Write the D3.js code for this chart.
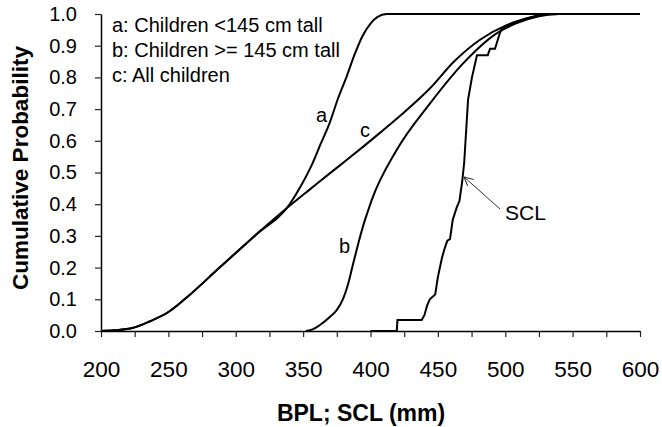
<!DOCTYPE html>
<html>
<head>
<meta charset="utf-8">
<script src="https://cdn.jsdelivr.net/npm/d3@7"></script>
<style>
  body { margin: 0; background: #fff; }
  svg { font-family: "Liberation Sans", Arial, sans-serif; }
</style>
</head>
<body>
<div id="chart"></div>
<script>
"use strict";

// cumulative curves, [BPL or SCL (mm), cumulative probability]
const curveA = [[200, 0], [210, 0.002], [224, 0.01], [236, 0.03], [250, 0.06], [262, 0.1],
  [288, 0.2], [314, 0.3], [340, 0.4], [348, 0.455], [356, 0.52], [363, 0.59], [370, 0.66],
  [376, 0.735], [382.5, 0.805], [388, 0.87], [394, 0.93], [400, 0.97], [405, 0.99],
  [412, 1], [600, 1]];

const curveB = [[352, 0], [357, 0.005], [362.5, 0.019], [370, 0.045], [374.9, 0.066],
  [379.8, 0.103], [383.5, 0.15], [387.2, 0.214], [391, 0.277], [394.7, 0.334], [398.4, 0.382],
  [400.9, 0.413], [419.4, 0.571], [444.2, 0.718], [468.9, 0.845], [493.6, 0.939],
  [508.5, 0.971], [525, 0.993], [540, 1], [600, 1]];

const curveC = [[200, 0], [210, 0.002], [224, 0.01], [236, 0.03], [250, 0.06], [262, 0.1],
  [288, 0.2], [314, 0.3], [340, 0.395], [356, 0.45], [370, 0.498], [382.5, 0.54],
  [407, 0.625], [425, 0.69], [444, 0.765], [462, 0.85], [481, 0.918], [501, 0.965],
  [515, 0.985], [528, 0.997], [540, 1], [600, 1]];

const curveSCL = [[400, 0], [419.5, 0], [420, 0.035], [438, 0.035], [440, 0.05], [442, 0.08],
  [444, 0.1], [448, 0.115], [450, 0.17], [453, 0.23], [455, 0.26], [457, 0.285], [459, 0.29],
  [461, 0.35], [464, 0.39], [466, 0.41], [468, 0.47], [469.5, 0.53], [470.1, 0.57],
  [472.4, 0.73], [475.3, 0.8], [479, 0.87], [487, 0.87], [488.7, 0.89], [492.4, 0.89],
  [496, 0.94], [497.6, 0.955], [505, 0.97], [515, 0.985], [528, 1], [600, 1]];

// legend lines and curve labels
const legendLines = ["a: Children <145 cm tall", "b: Children >= 145 cm tall", "c: All children"];
const curveLabels = [
  { text: "a", x: 359.6, y: 0.66 },
  { text: "c", x: 392.2, y: 0.613 },
  { text: "b", x: 376.6, y: 0.246 },
  { text: "SCL", x: 499.8, y: 0.35 }
];
// arrow from the SCL label to its curve
const arrowFrom = [496.1, 0.385];
const arrowTo = [469.4, 0.486];

const xTicks = d3.range(200, 601, 25);
const yTicks = d3.range(0, 11).map(d => d / 10);

const width = 662, height = 427;
const margin = { top: 14, right: 22, bottom: 96, left: 101 };

const svg = d3.select("#chart").append("svg")
  .attr("width", width)
  .attr("height", height);

const x = d3.scaleLinear().domain([200, 600]).range([margin.left, width - margin.right]);
const y = d3.scaleLinear().domain([0, 1]).range([height - margin.bottom, margin.top]);

// x axis
const xAxis = svg.append("g")
  .attr("transform", `translate(0,${y(0)})`)
  .call(d3.axisBottom(x)
    .tickValues(xTicks)
    .tickSize(6)
    .tickSizeOuter(0)
    .tickFormat(d => d % 50 === 0 ? d : ""));
xAxis.selectAll("text")
  .attr("y", 46)
  .attr("dy", 0)
  .attr("fill", "#000")
  .style("font-size", "22.5px");

// y axis
const yAxis = svg.append("g")
  .attr("transform", `translate(${x(200)},0)`)
  .call(d3.axisLeft(y)
    .tickValues(yTicks)
    .tickSize(6)
    .tickSizeOuter(0)
    .tickPadding(18)
    .tickFormat(d3.format(".1f")));
yAxis.selectAll("text")
  .attr("fill", "#000")
  .style("font-size", "20px");

svg.selectAll(".domain").attr("stroke", "#000").attr("stroke-width", 1.5);
svg.selectAll(".tick line").attr("stroke", "#222").attr("stroke-width", 1.2);

// axis titles
svg.append("text")
  .attr("x", 361)
  .attr("y", 421)
  .attr("text-anchor", "middle")
  .style("font-size", "23px")
  .style("font-weight", "bold")
  .text("BPL; SCL (mm)");

svg.append("text")
  .attr("transform", "translate(28,168) rotate(-90)")
  .attr("text-anchor", "middle")
  .style("font-size", "22.5px")
  .style("font-weight", "bold")
  .text("Cumulative Probability");

// curves
const smooth = d3.line()
  .x(d => x(d[0]))
  .y(d => y(d[1]))
  .curve(d3.curveMonotoneX);

const straight = d3.line()
  .x(d => x(d[0]))
  .y(d => y(d[1]));

[curveA, curveB, curveC].forEach(c => {
  svg.append("path")
    .datum(c)
    .attr("d", smooth)
    .attr("fill", "none")
    .attr("stroke", "#000")
    .attr("stroke-width", 2);
});

svg.append("path")
  .datum(curveSCL)
  .attr("d", straight)
  .attr("fill", "none")
  .attr("stroke", "#000")
  .attr("stroke-width", 2)
  .attr("stroke-linejoin", "miter");

// legend
svg.append("g")
  .selectAll("text")
  .data(legendLines)
  .join("text")
  .attr("x", 112)
  .attr("y", (d, i) => 32 + i * 25)
  .style("font-size", "20px")
  .text(d => d);

// curve labels
svg.append("g")
  .selectAll("text")
  .data(curveLabels)
  .join("text")
  .attr("x", d => x(d.x))
  .attr("y", d => y(d.y))
  .style("font-size", d => d.text === "SCL" ? "21px" : "20px")
  .text(d => d.text);

// arrow
svg.append("defs").append("marker")
  .attr("id", "arrowhead")
  .attr("viewBox", "0 0 10 10")
  .attr("refX", 10)
  .attr("refY", 5)
  .attr("markerWidth", 9)
  .attr("markerHeight", 9)
  .attr("markerUnits", "userSpaceOnUse")
  .attr("orient", "auto")
  .append("path")
  .attr("d", "M0,0 L10,5 L0,10")
  .attr("fill", "none")
  .attr("stroke", "#333")
  .attr("stroke-width", 1.2);

svg.append("line")
  .attr("x1", x(arrowFrom[0]))
  .attr("y1", y(arrowFrom[1]))
  .attr("x2", x(arrowTo[0]))
  .attr("y2", y(arrowTo[1]))
  .attr("stroke", "#333")
  .attr("stroke-width", 1)
  .attr("marker-end", "url(#arrowhead)");
</script>
</body>
</html>
